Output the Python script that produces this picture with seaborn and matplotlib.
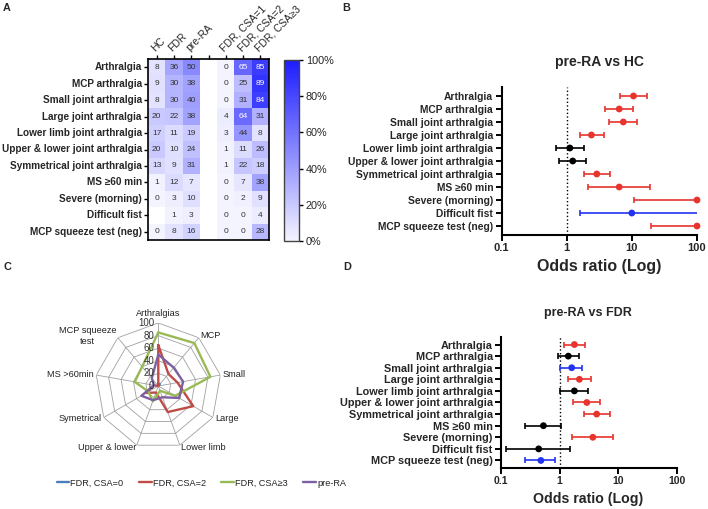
import numpy as np
import pandas as pd
import matplotlib
matplotlib.use('Agg')
import matplotlib.pyplot as plt
import seaborn as sns
from matplotlib.colors import LinearSegmentedColormap
from matplotlib.ticker import NullLocator

sns.set_style('white')
plt.rcParams['font.family'] = ['Liberation Sans', 'DejaVu Sans']

# ---- panel A data (% of subjects) ----
symptoms = ['Arthralgia', 'MCP arthralgia', 'Small joint arthralgia', 'Large joint arthralgia',
            'Lower limb joint arthralgia', 'Upper & lower joint arthralgia',
            'Symmetrical joint arthralgia', 'MS ≥60 min', 'Severe (morning)',
            'Difficult fist', 'MCP squeeze test (neg)']
groups = ['HC', 'FDR', 'pre-RA', '', 'FDR, CSA=1', 'FDR, CSA=2', 'FDR, CSA≥3']
hc = [8, 9, 8, 20, 17, 20, 13, 1, 0, np.nan, 0]
fdr = [36, 30, 30, 22, 11, 10, 9, 12, 3, 1, 8]
pre_ra = [50, 38, 40, 38, 19, 24, 31, 7, 10, 3, 16]
blank = [np.nan] * 11
csa1 = [0, 0, 0, 4, 3, 1, 1, 0, 0, 0, 0]
csa2 = [65, 25, 31, 64, 44, 11, 22, 7, 2, 0, 0]
csa3 = [85, 89, 84, 31, 8, 26, 18, 38, 9, 4, 28]

# ---- panel B data (pre-RA vs HC) ----
b_or = [10.6, 6.4, 7.4, 2.4, 1.12, 1.24, 2.9, 6.4, 100, 10, 100]
b_lo = [6.6, 3.9, 4.5, 1.6, 0.68, 0.77, 1.85, 2.15, 10.8, 1.6, 19.6]
b_hi = [17.0, 10.4, 12.2, 3.7, 1.87, 1.98, 4.6, 19.0, 100, 115, 100]
b_col = ['red', 'red', 'red', 'red', 'black', 'black', 'red', 'red', 'red', 'blue', 'red']

# ---- panel D data (pre-RA vs FDR) ----
d_or = [1.79, 1.41, 1.61, 2.18, 1.79, 2.92, 4.3, 0.53, 3.7, 0.44, 0.48]
d_lo = [1.21, 0.95, 1.02, 1.41, 1.02, 1.72, 2.65, 0.26, 1.66, 0.12, 0.26]
d_hi = [2.73, 2.18, 2.45, 3.41, 3.1, 4.9, 7.3, 1.06, 8.3, 1.51, 0.85]
d_col = ['red', 'black', 'blue', 'red', 'black', 'red', 'red', 'black', 'red', 'black', 'blue']

# ---- panel C data (radar) ----
radar_axes = ['Arthralgias', 'MCP', 'Small', 'Large', 'Lower limb', 'Upper & lower',
              'Symetrical', 'MS >60min', 'MCP squeeze\ntest']
radar_csa0 = [3, 4, 0, 0, 0, 0, 0, 0, 0]
radar_csa2 = [65, 25, 31, 64, 44, 11, 22, 7, 0]
radar_csa3 = [85, 89, 84, 31, 8, 26, 18, 38, 40]
radar_prera = [50, 38, 40, 38, 19, 24, 31, 7, 16]
radar_series = ['FDR, CSA=0', 'FDR, CSA=2', 'FDR, CSA≥3', 'pre-RA']

palette = {'red': '#e8342e', 'black': 'black', 'blue': '#2233f0'}
radar_colors = ['#4a7ebb', '#be4b48', '#98b954', '#7d60a0']

fig = plt.figure(figsize=(7.08, 5.09), dpi=100)
W, H = 708, 509


def box(x0, y0, x1, y1):
    return [x0 / W, 1 - y1 / H, (x1 - x0) / W, (y1 - y0) / H]


# ================= A: heatmap =================
axA = fig.add_axes(box(148, 59, 269, 240))
cax = fig.add_axes(box(284, 60, 299, 241))
df = pd.DataFrame(np.array([hc, fdr, pre_ra, blank, csa1, csa2, csa3]).T,
                  index=symptoms, columns=range(len(groups)))
cmap = LinearSegmentedColormap.from_list('wb', ['#f4f4ff', '#1c1cff'])
sns.heatmap(df, ax=axA, cbar_ax=cax, cmap=cmap, vmin=0, vmax=100,
            annot=True, fmt='.0f', annot_kws={'size': 6},
            cbar_kws={'ticks': [0, 20, 40, 60, 80, 100]})
for t in axA.texts:
    v = float(t.get_text())
    t.set_color('white' if v >= 60 else '#333333')
axA.xaxis.tick_top()
axA.set_xticklabels(groups, rotation=45, ha='left', rotation_mode='anchor', fontsize=7.5)
axA.set_yticklabels(symptoms, rotation=0, fontsize=7.2, fontweight='bold')
axA.tick_params(axis='x', top=True, bottom=False, labeltop=True, labelbottom=False,
                length=3, width=1, pad=1, color='black')
axA.tick_params(axis='y', left=True, length=3, width=1, pad=1.5, color='black')
axA.set_xlabel('')
axA.set_ylabel('')
for sp in axA.spines.values():
    sp.set_visible(True)
    sp.set_linewidth(1.2)
    sp.set_color('black')
cb = axA.collections[0].colorbar
cb.ax.set_yticklabels([f'{v}%' for v in [0, 20, 40, 60, 80, 100]], fontsize=7.8)
cb.ax.tick_params(right=True, length=3, width=1, color='black', pad=2)
cb.outline.set_visible(True)
cb.outline.set_edgecolor('#444444')
cb.outline.set_linewidth(1)


# ================= B / D: forest plots =================
def forest(ax, orr, lo, hi, cols, label_size, tick_size, top_pad):
    n = len(symptoms)
    d = pd.DataFrame({'y': np.arange(n), 'or': orr, 'lo': lo, 'hi': hi, 'col': cols})
    ax.axvline(1, color='black', ls=':', lw=1, zorder=1)
    for c, g in d.groupby('col'):
        ax.errorbar(g['or'], g['y'], xerr=[g['or'] - g['lo'], g['hi'] - g['or']],
                    fmt='none', ecolor=palette[c], elinewidth=1.2, capsize=2.3,
                    capthick=1.2, zorder=2)
    sns.scatterplot(data=d, x='or', y='y', hue='col', palette=palette, s=24,
                    linewidth=0, legend=False, ax=ax, zorder=3, clip_on=False)
    ax.set_xscale('log')
    ax.set_xlim(0.1, 100)
    ax.set_ylim(n - 1 + top_pad, -top_pad)
    ax.set_xticks([0.1, 1, 10, 100])
    ax.set_xticklabels(['0.1', '1', '10', '100'], fontsize=tick_size, fontweight='bold')
    ax.xaxis.set_minor_locator(NullLocator())
    ax.set_yticks(np.arange(n))
    ax.set_yticklabels(symptoms, fontsize=label_size, fontweight='bold')
    ax.tick_params(axis='both', length=4, width=1.4, color='black', direction='out',
                   left=True, bottom=True, pad=2)
    ax.set_xlabel('')
    ax.set_ylabel('')
    sns.despine(ax=ax)
    for s in ['left', 'bottom']:
        ax.spines[s].set_linewidth(1.5)
        ax.spines[s].set_color('black')


axB = fig.add_axes(box(501.5, 87, 697, 235))
forest(axB, b_or, b_lo, b_hi, b_col, 7.4, 8, 0.69)
fig.text(599 / W, 1 - 62 / H, 'pre-RA vs HC', ha='center', va='center',
         fontsize=10, fontweight='bold')
fig.text(599 / W, 1 - 267 / H, 'Odds ratio (Log)', ha='center', va='center',
         fontsize=11.5, fontweight='bold')

axD = fig.add_axes(box(501, 337, 676.7, 468))
forest(axD, d_or, d_lo, d_hi, d_col, 7.85, 7.5, 0.65)
fig.text(588 / W, 1 - 313 / H, 'pre-RA vs FDR', ha='center', va='center',
         fontsize=9, fontweight='bold')
fig.text(588 / W, 1 - 499 / H, 'Odds ratio (Log)', ha='center', va='center',
         fontsize=10.2, fontweight='bold')

# ================= C: radar =================
axC = fig.add_axes(box(95.3, 323, 221.3, 449), projection='polar')
k = len(radar_axes)
ang = np.linspace(0, 2 * np.pi, k, endpoint=False)
ang_c = np.append(ang, ang[0])
axC.set_theta_offset(np.pi / 2)
axC.set_theta_direction(-1)
axC.set_ylim(0, 100)
axC.set_xticks([])
axC.set_yticks([])
axC.grid(False)
axC.spines['polar'].set_visible(False)
axC.patch.set_alpha(0)
for r in [20, 40, 60, 80, 100]:
    axC.plot(ang_c, [r] * (k + 1), color='#a0a0a0', lw=0.6, zorder=1)
for a in ang:
    axC.plot([a, a], [0, 100], color='#a0a0a0', lw=0.6, zorder=1)
handles = []
for vals, col, name in zip([radar_csa0, radar_csa2, radar_csa3, radar_prera],
                           radar_colors, radar_series):
    h, = axC.plot(ang_c, vals + vals[:1], color=col, lw=1.7, label=name, zorder=3)
    handles.append(h)
for r in [0, 20, 40, 60, 80, 100]:
    axC.annotate(str(r), xy=(0, r), xytext=(-3, 0), textcoords='offset points',
                 ha='right', va='center', fontsize=7, color='#333333')
for a, lab in zip(ang, radar_axes):
    s, c = np.sin(a), np.cos(a)
    ha = 'left' if s > 0.1 else ('right' if s < -0.1 else 'center')
    if c > 0.9:
        axC.text(a, 108, lab, ha='center', va='bottom', fontsize=6.6, color='#222222')
    else:
        axC.text(a, 104, lab, ha=ha, va='center', fontsize=6.6, color='#222222',
                 multialignment='center')
fig.legend(handles=handles, loc='center left', bbox_to_anchor=(52 / W, 1 - 483 / H),
           ncol=4, frameon=False, fontsize=6.6, handlelength=1.4, handletextpad=0.1,
           columnspacing=1.7, borderpad=0, labelcolor='#222222')

# panel letters
for lab, x, y in [('A', 3, 3), ('B', 342.5, 3), ('C', 3, 262), ('D', 343, 262)]:
    fig.text(x / W, 1 - y / H, lab, ha='left', va='top', fontsize=7.8, fontweight='bold')

fig.savefig('out.png', dpi=100)
